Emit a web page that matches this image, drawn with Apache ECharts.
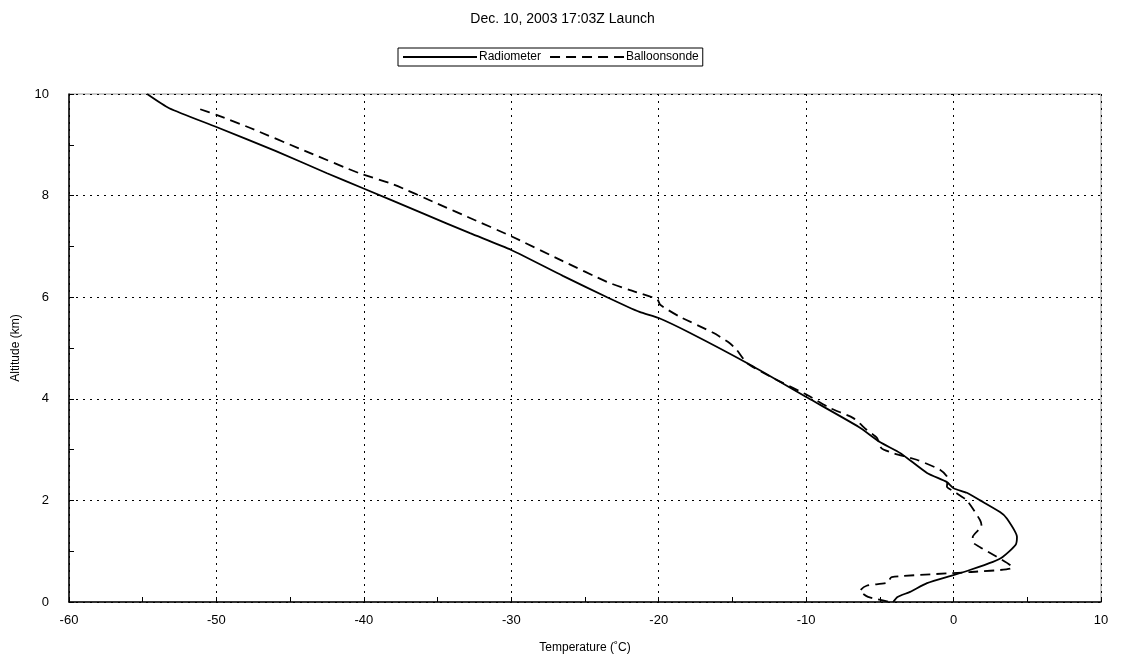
<!DOCTYPE html>
<html><head><meta charset="utf-8">
<script src="https://cdn.jsdelivr.net/npm/echarts@6/dist/echarts.min.js"></script>
<style>html,body{margin:0;padding:0;background:#fff}#c{width:1125px;height:661px}</style>
</head><body><div id="c"></div>
<script>
var titleText = 'Dec. 10, 2003 17:03Z Launch';
var seriesNames = ['Radiometer', 'Balloonsonde'];
var xTicks = [-60, -50, -40, -30, -20, -10, 0, 10];
var yTicks = [0, 2, 4, 6, 8, 10];
// Radiometer: temperature (C) and altitude (km)
var radT = [-54.7, -53.2, -50.0, -46.0, -42.5, -40.1, -36.0, -32.8, -30.0, -26.5, -23.5, -21.3, -20.0, -17.9, -13.8, -9.9, -6.4, -5.0, -3.6, -1.8, -0.45, 0.0, 0.9, 1.8, 3.15, 3.6, 4.3, 4.2, 3.35, 2.67, 1.1, 0.0, -1.8, -2.95, -3.8, -4.1];
var radH = [10.0, 9.72, 9.35, 8.88, 8.44, 8.15, 7.65, 7.26, 6.93, 6.42, 6.00, 5.71, 5.59, 5.30, 4.67, 4.02, 3.44, 3.15, 2.93, 2.54, 2.36, 2.24, 2.15, 2.0, 1.77, 1.65, 1.28, 1.12, 0.89, 0.79, 0.63, 0.53, 0.37, 0.20, 0.10, 0.0];
// Balloonsonde
var balT = [-51.1, -50.0, -47.7, -44.0, -40.3, -38.0, -35.0, -32.8, -30.0, -26.5, -23.5, -21.95, -20.1, -19.9, -18.6, -16.3, -15.2, -14.7, -14.0, -12.25, -9.9, -8.4, -6.8, -5.9, -5.2, -4.9, -4.1, -2.5, -0.9, -0.4, -0.45, 0.0, 0.9, 1.8, 1.9, 1.3, 1.3, 1.8, 4.0, 1.1, -4.2, -4.5, -5.9, -6.35, -5.8, -4.3];
var balH = [9.70, 9.59, 9.33, 8.88, 8.44, 8.22, 7.84, 7.56, 7.20, 6.71, 6.30, 6.14, 5.96, 5.85, 5.62, 5.30, 5.10, 4.96, 4.70, 4.41, 4.07, 3.82, 3.62, 3.39, 3.23, 3.03, 2.93, 2.80, 2.60, 2.44, 2.27, 2.18, 2.0, 1.61, 1.50, 1.28, 1.18, 1.08, 0.68, 0.59, 0.49, 0.38, 0.32, 0.22, 0.10, 0.0];

function pairs(a, b) { return a.map(function (v, i) { return [v, b[i]]; }); }
var font = 'Liberation Sans, Arial, sans-serif';
var chart = echarts.init(document.getElementById('c'));
chart.setOption({
  animation: false,
  backgroundColor: '#fff',
  title: { text: titleText, left: 'center', top: 7, textStyle: { fontFamily: font, fontSize: 14, fontWeight: 'normal', color: '#000' } },
  legend: {
    top: 48, left: 398, data: seriesNames, itemWidth: 74, itemHeight: 10, itemGap: 8,
    borderColor: '#000', borderWidth: 1, borderRadius: 0, padding: [3, 4, 3, 4],
    itemStyle: { opacity: 0 },
    textStyle: { fontFamily: font, fontSize: 12, color: '#000', padding: [0, 0, 0, -3] }
  },
  grid: { left: 69, right: 24, top: 94, bottom: 59, show: true, borderColor: '#999', borderWidth: 1 },
  xAxis: {
    type: 'value', min: xTicks[0], max: xTicks[xTicks.length - 1], interval: 10,
    name: 'Temperature (˚C)', nameLocation: 'middle', nameGap: 40,
    nameTextStyle: { fontFamily: font, fontSize: 12, color: '#000' },
    axisLine: { show: true, onZero: false, lineStyle: { color: '#000', width: 1.5 } },
    axisTick: { show: true, inside: true, length: 5, lineStyle: { color: '#000' } },
    minorTick: { show: true, splitNumber: 2, length: 5, lineStyle: { color: '#000' } },
    axisLabel: { fontFamily: font, fontSize: 13, color: '#000', margin: 12 },
    splitLine: { show: true, lineStyle: { color: '#000', type: [2, 5], width: 1 } }
  },
  yAxis: {
    type: 'value', min: yTicks[0], max: yTicks[yTicks.length - 1], interval: 2,
    name: 'Altitude (km)', nameLocation: 'middle', nameGap: 47, nameRotate: 90,
    nameTextStyle: { fontFamily: font, fontSize: 12, color: '#000' },
    axisLine: { show: true, onZero: false, lineStyle: { color: '#000', width: 1.5 } },
    axisTick: { show: true, inside: true, length: 5, lineStyle: { color: '#000' } },
    minorTick: { show: true, splitNumber: 2, length: 5, lineStyle: { color: '#000' } },
    axisLabel: { fontFamily: font, fontSize: 13, color: '#000', margin: 20 },
    splitLine: { show: true, lineStyle: { color: '#000', type: [2, 5], width: 1 } }
  },
  series: [
    { name: seriesNames[0], type: 'line', data: pairs(radT, radH), symbol: 'none', smooth: 0.2,
      lineStyle: { color: '#000', width: 1.8 }, itemStyle: { color: '#000' } },
    { name: seriesNames[1], type: 'line', data: pairs(balT, balH), symbol: 'none', smooth: 0.2,
      lineStyle: { color: '#000', width: 1.8, type: [10, 6] }, itemStyle: { color: '#000' } }
  ]
});
</script></body></html>
